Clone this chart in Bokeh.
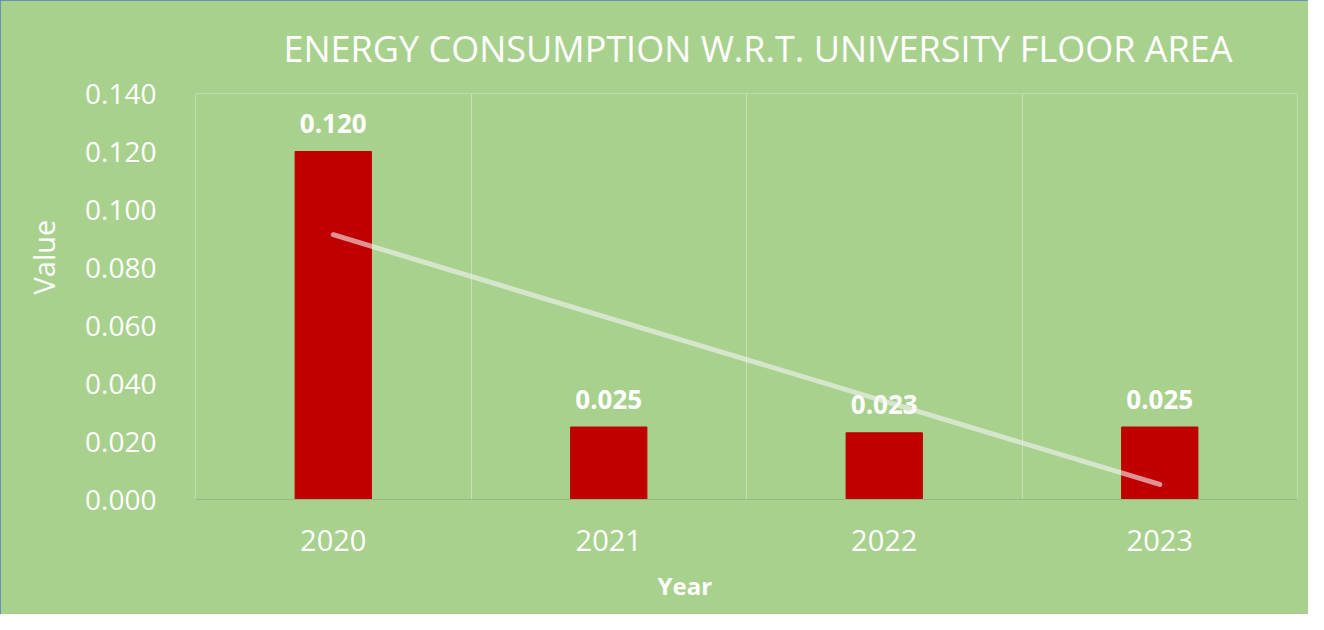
import numpy as np
from bokeh.plotting import figure
from bokeh.models import FixedTicker, ColumnDataSource, Range1d, Title
from bokeh.core.properties import value
from bokeh.embed import file_html
from bokeh.resources import INLINE

# ---- data ----
years = ["2020", "2021", "2022", "2023"]
values = [0.120, 0.025, 0.023, 0.025]
labels = ["0.120", "0.025", "0.023", "0.025"]
y_ticks = [0.000, 0.020, 0.040, 0.060, 0.080, 0.100, 0.120, 0.140]
y_tick_labels = ["0.000", "0.020", "0.040", "0.060", "0.080", "0.100", "0.120", "0.140"]
x_title = "Year"
y_title = "Value"

BG = "#a9d18e"
BAR = "#c00000"
FONT = "Open Sans"

xpos = [i + 0.5 for i in range(len(years))]

# linear trend line (least squares fit of the series)
coef = np.polyfit(np.arange(len(values)), values, 1)
trend_x = [xpos[0], xpos[-1]]
trend_y = [coef[1], coef[0] * (len(values) - 1) + coef[1]]

p = figure(width=1308, height=614, output_backend="svg", toolbar_location=None,
           x_range=Range1d(0, len(years)), y_range=Range1d(0, 0.14),
           min_border_left=195, min_border_right=11, min_border_top=93, min_border_bottom=114)
p.background_fill_color = BG
p.border_fill_color = BG
p.outline_line_color = None
p.styles = {"outline": "2px solid #4f7fc4", "outline-offset": "-2px"}

# title
p.title.text = "ENERGY CONSUMPTION W.R.T. UNIVERSITY FLOOR AREA"
p.title.text_font = FONT
p.title.text_font_style = "normal"
p.title.text_font_size = "36px"
p.title.text_color = "white"
p.title.align = "left"
p.title.offset = 88
p.title.standoff = 42

src = ColumnDataSource(dict(x=xpos, top=values, label=labels, year=years))
p.vbar(x="x", top="top", bottom=0, width=0.277, source=src, fill_color=BAR, line_color=BAR)

p.text(x="x", y="top", text="label", source=src, text_align="center", text_baseline="alphabetic",
       y_offset=-28, text_font=value(FONT), text_font_style="bold", text_font_size="26px",
       text_color="white")

p.line(trend_x, trend_y, line_color="#f4f4f4", line_alpha=0.6, line_width=5, line_cap="round")

# axes
p.xaxis.ticker = FixedTicker(ticks=xpos)
p.xaxis.major_label_overrides = {xp: y for xp, y in zip(xpos, years)}
p.xaxis.major_label_text_font = FONT
p.xaxis.major_label_text_font_size = "29px"
p.xaxis.major_label_text_color = "white"
p.xaxis.major_label_standoff = 24
p.xaxis.major_tick_line_color = None
p.xaxis.minor_tick_line_color = None
p.xaxis.axis_line_color = "#93b98a"
p.xaxis.axis_line_width = 1

p.yaxis.ticker = FixedTicker(ticks=y_ticks)
p.yaxis.major_label_overrides = {t: l for t, l in zip(y_ticks, y_tick_labels)}
p.yaxis.major_label_text_font = FONT
p.yaxis.major_label_text_font_size = "28px"
p.yaxis.major_label_text_color = "white"
p.yaxis.major_label_standoff = 33
p.yaxis.major_tick_line_color = None
p.yaxis.minor_tick_line_color = None
p.yaxis.axis_line_color = None

# axis titles as side titles (off-centre as in the original)
p.add_layout(Title(text=x_title, align="left", offset=462, standoff=26,
                   text_font=FONT, text_font_style="bold", text_font_size="24px",
                   text_color="white"), "below")
p.add_layout(Title(text=y_title, align="left", offset=205, standoff=39,
                   text_font=FONT, text_font_style="normal", text_font_size="29px",
                   text_color="white"), "left")

# grid: vertical lines at category boundaries only
p.xgrid.ticker = FixedTicker(ticks=list(range(len(years) + 1)))
p.xgrid.grid_line_color = "white"
p.xgrid.grid_line_alpha = 0.35
p.ygrid.grid_line_color = None

open("out.html", "w").write(file_html(p, INLINE))
